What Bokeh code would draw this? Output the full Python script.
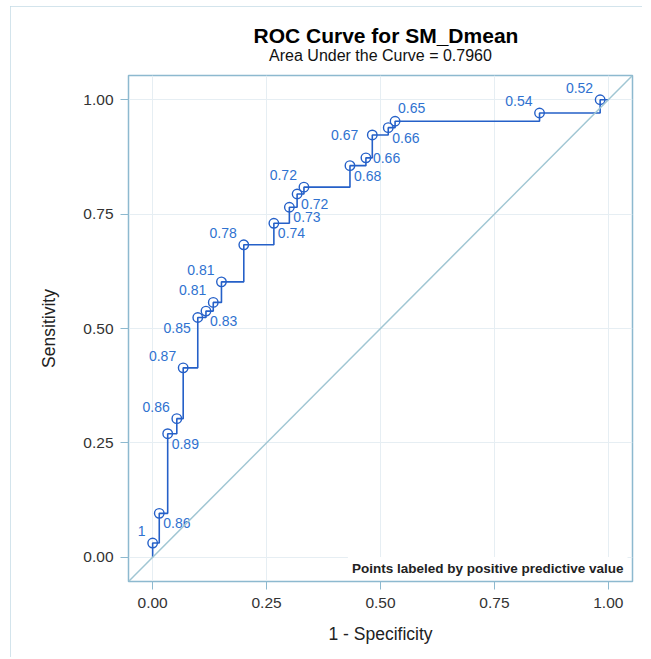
from bokeh.plotting import figure
from bokeh.models import Range1d, Slope, Title, Label, FixedTicker, ColumnDataSource
from bokeh.embed import file_html
from bokeh.resources import INLINE
from bokeh.core.properties import value

# ROC curve vertices (1 - specificity, sensitivity)
fpr = [0.0, 0.0, 0.0145, 0.033, 0.053, 0.067, 0.099, 0.117, 0.133, 0.151, 0.200,
       0.266, 0.300, 0.317, 0.332, 0.433, 0.468, 0.482, 0.517, 0.532, 0.849, 0.982, 1.0]
tpr = [0.0, 0.031, 0.096, 0.270, 0.303, 0.414, 0.524, 0.538, 0.557, 0.602, 0.683,
       0.730, 0.765, 0.794, 0.809, 0.856, 0.873, 0.923, 0.939, 0.953, 0.971, 1.0, 1.0]
# positive predictive value labels for the marked points (vertices 1..21)
ppv = ["1", "0.86", "0.89", "0.86", "0.87", "0.85", "0.83", "0.81", "0.81", "0.78",
       "0.74", "0.73", "0.72", "0.72", "0.68", "0.66", "0.67", "0.66", "0.65", "0.54", "0.52"]
ticks = [0.0, 0.25, 0.5, 0.75, 1.0]
tick_labels = ["0.00", "0.25", "0.50", "0.75", "1.00"]
auc = 0.7960

# label placement around each marker (layout, not data)
side = ["ul", "lr", "lr", "ul", "ul", "ll", "lr", "ul", "ul", "ul",
        "lr", "lr", "lr", "ul", "lr", "r", "l", "lr", "ur", "ul", "ul"]
place = {"ul": ("right", -7, -12), "lr": ("left", 4, 10), "ll": ("right", -7, 10),
         "r": ("left", 7, 0), "l": ("right", -14, 0), "ur": ("left", 3, -13)}

FONT = "Liberation Sans"
BLUE = "#2560c8"
LBLUE = "#2f72d0"
FRAME = "#8db9cf"

p = figure(width=632, height=651, output_backend="svg", toolbar_location=None,
           x_range=Range1d(-0.053, 1.053), y_range=Range1d(-0.053, 1.053),
           min_border_left=118, min_border_right=10, min_border_top=69, min_border_bottom=76,
           title="ROC Curve for SM_Dmean")
p.styles = {"outline": "1px solid #c4dbe6", "outline-offset": "-1px",
            "margin-left": "10px", "margin-top": "6px"}

p.title.align = "left"
p.title.offset = 125
p.title.text_font = FONT
p.title.text_font_size = "21px"
p.title.text_font_style = "bold"
p.title.text_color = "#000000"
p.title.standoff = 0
p.title.vertical_align = "bottom"

# small spacer between subtitle and frame, then the subtitle
p.add_layout(Title(text=" ", text_font_size="1px", standoff=7), "above")
p.add_layout(Title(text=f"Area Under the Curve = {auc:.4f}", align="center",
                   vertical_align="top", text_font=FONT, text_font_size="16px",
                   text_font_style="normal", text_color="#111111", standoff=0), "above")

p.outline_line_color = FRAME
p.outline_line_width = 1.5
p.background_fill_color = "white"
p.border_fill_color = "white"

for ax in (p.xaxis[0], p.yaxis[0]):
    ax.ticker = FixedTicker(ticks=ticks)
    ax.major_label_overrides = {t: l for t, l in zip(ticks, tick_labels)}
    ax.axis_line_color = FRAME
    ax.major_tick_line_color = FRAME
    ax.major_tick_out = 8
    ax.major_tick_in = 0
    ax.minor_tick_line_color = None
    ax.major_label_text_font = FONT
    ax.major_label_text_font_size = "15.5px"
    ax.major_label_text_color = "#333333"
    ax.axis_label_text_font = FONT
    ax.axis_label_text_font_size = "17.5px"
    ax.axis_label_text_font_style = "normal"
    ax.axis_label_text_color = "#222222"
p.xaxis.axis_label = "1 - Specificity"
p.yaxis.axis_label = "Sensitivity"
p.xaxis.major_label_standoff = 8
p.yaxis.major_label_standoff = 7
p.xaxis.axis_label_standoff = 13
p.yaxis.axis_label_standoff = 21

p.grid.grid_line_color = "#e6eef3"
p.grid.grid_line_width = 1

# chance diagonal
p.add_layout(Slope(gradient=1, y_intercept=0, line_color="#a0c6d3", line_width=1.5))

# ROC curve
p.step(fpr, tpr, mode="after", line_color=BLUE, line_width=1.6)

mx = fpr[1:22]
my = tpr[1:22]
src = ColumnDataSource(dict(
    x=mx, y=my, t=ppv,
    align=[place[s][0] for s in side],
    dx=[place[s][1] for s in side],
    dy=[place[s][2] for s in side],
))
p.scatter("x", "y", source=src, marker="circle", size=9.5, fill_color=None,
          line_color=BLUE, line_width=1.4)
p.text("x", "y", text="t", source=src, text_align="align", text_baseline="middle",
       x_offset="dx", y_offset="dy", text_font=value(FONT), text_font_size="14px",
       text_color=LBLUE)

note = Label(x=499, y=13, x_units="screen", y_units="screen",
             text="Points labeled by positive predictive value",
             text_font=FONT, text_font_size="13.5px", text_font_style="bold",
             text_color="#222222", text_align="right", text_baseline="middle",
             background_fill_color="white", padding=4)
p.add_layout(note)

open("out.html", "w").write(file_html(p, INLINE))
